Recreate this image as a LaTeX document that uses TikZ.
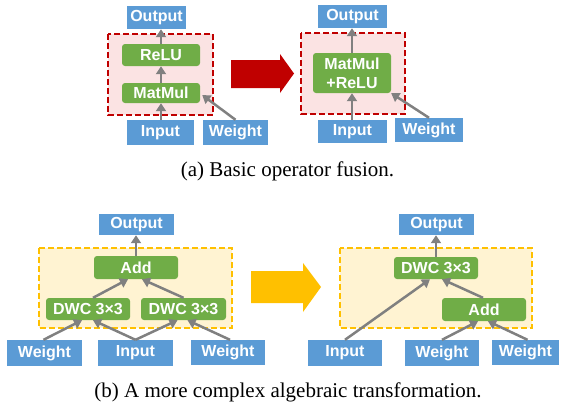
\documentclass[tikz,border=0pt]{standalone}
\usepackage{fontspec}
\setmainfont{Liberation Serif}
\newfontfamily\boxfont{Liberation Sans}
\usetikzlibrary{arrows.meta}
\definecolor{tblue}{HTML}{5B9BD5}
\definecolor{opgreen}{HTML}{70AD47}
\definecolor{lgray}{HTML}{808080}
\definecolor{dred}{HTML}{C00000}
\definecolor{gold}{HTML}{FFC000}
\definecolor{pinkbg}{HTML}{FBE3E3}
\definecolor{creambg}{HTML}{FFF3D2}
\begin{document}
\begin{tikzpicture}[x=1pt,y=-1pt,
    tensor/.style={fill=tblue,text=white,inner sep=0pt,
      font=\boxfont\bfseries\fontsize{16}{17}\selectfont},
    op/.style={fill=opgreen,text=white,inner sep=0pt,rounded corners=3pt,
      align=center,font=\boxfont\bfseries\fontsize{16}{19}\selectfont},
    flow/.style={draw=lgray,line width=2.5pt,-{Triangle[length=8pt,width=10pt]}},
    redzone/.style={draw=dred,fill=pinkbg,line width=2.2pt,dash pattern=on 6pt off 3pt},
    goldzone/.style={draw=gold,fill=creambg,line width=2.2pt,dash pattern=on 6pt off 3pt},
    caption/.style={anchor=base,font=\fontsize{21}{24}\selectfont}]
  \useasboundingbox (0,0) rectangle (564,402);

  % (a) basic operator fusion
  \draw[redzone] (108,34) rectangle (213,115);
  \draw[redzone] (301,33) rectangle (405,114);
  \node[tensor,minimum width=59pt,minimum height=23pt] (out1) at (156.5,17.5) {Output};
  \node[op,minimum width=78pt,minimum height=22pt] (relu1) at (161,55) {ReLU};
  \node[op,minimum width=78pt,minimum height=20pt] (mm1) at (161,93) {MatMul};
  \node[tensor,minimum width=67pt,minimum height=25pt] (in1) at (160.5,132.5) {Input};
  \node[tensor,minimum width=65pt,minimum height=25pt] (w1) at (235.5,132.5) {Weight};

  \node[tensor,minimum width=69pt,minimum height=23pt] (out2) at (352.5,16.5) {Output};
  \node[op,minimum width=78pt,minimum height=40pt] (fused) at (352,73) {MatMul\\+ReLU};
  \node[tensor,minimum width=69pt,minimum height=23pt] (in2) at (352.5,131.5) {Input};
  \node[tensor,minimum width=68pt,minimum height=24pt] (w2) at (429,130) {Weight};

  \fill[dred] (231,60) -- (280,60) -- (280,54) -- (294,73.5) -- (280,93)
    -- (280,88) -- (231,88) -- cycle;

  \draw[flow] (in1.north -| mm1) -- (mm1.south);
  \draw[flow] (mm1.north) -- (relu1.south);
  \draw[flow] (relu1.north) -- (relu1.north |- out1.south);
  \draw[flow] (w1.north) -- ([shift={(2,2)}]mm1.east);
  \draw[flow] (in2.north -| fused) -- (fused.south);
  \draw[flow] (fused.north) -- (fused.north |- out2.south);
  \draw[flow] (w2.north) -- (fused.south east);

  \node[caption] (capa) at (287.5,176) {(a) Basic operator fusion.};

  % (b) algebraic transformation
  \draw[goldzone] (39,248) rectangle (232,328);
  \draw[goldzone] (340,248) rectangle (532,328);
  \node[tensor,minimum width=75pt,minimum height=21pt] (out3) at (136.5,224.5) {Output};
  \node[op,minimum width=84pt,minimum height=23pt] (add3) at (136,267.5) {Add};
  \node[op,minimum width=84pt,minimum height=22pt] (dwcl) at (88,309) {DWC 3×3};
  \node[op,minimum width=85pt,minimum height=22pt] (dwcr) at (183.5,309) {DWC 3×3};
  \node[tensor,minimum width=75pt,minimum height=26pt] (wl) at (44.5,353) {Weight};
  \node[tensor,minimum width=75pt,minimum height=26pt] (in3) at (135.5,353) {Input};
  \node[tensor,minimum width=74pt,minimum height=25pt] (wr) at (228,352.5) {Weight};

  \node[tensor,minimum width=75pt,minimum height=21pt] (out4) at (436.5,224.5) {Output};
  \node[op,minimum width=84pt,minimum height=22pt] (dwc4) at (436,268) {DWC 3×3};
  \node[op,minimum width=84pt,minimum height=23pt] (add4) at (484,309.5) {Add};
  \node[tensor,minimum width=74pt,minimum height=26pt] (in4) at (345,353) {Input};
  \node[tensor,minimum width=74pt,minimum height=26pt] (wm4) at (442,353) {Weight};
  \node[tensor,minimum width=67pt,minimum height=25pt] (wr4) at (525.5,352.5) {Weight};

  \fill[gold] (251,271) -- (303,271) -- (303,263) -- (321,287) -- (303,312)
    -- (303,303) -- (251,303) -- cycle;

  \draw[flow] (add3.north) -- (add3.north |- out3.south);
  \draw[flow] ([xshift=5pt]dwcl.north) -- ([xshift=-8pt]add3.south);
  \draw[flow] (dwcr.north) -- ([xshift=6pt]add3.south);
  \draw[flow] ([xshift=-1pt]wl.north) -- ([xshift=-6pt]dwcl.south);
  \draw[flow] (in3.north) -- ([xshift=5pt]dwcl.south);
  \draw[flow] (in3.north) -- ([xshift=-6pt]dwcr.south);
  \draw[flow] ([xshift=2pt]wr.north) -- ([xshift=4pt]dwcr.south);

  \draw[flow] (dwc4.north) -- (dwc4.north |- out4.south);
  \draw[flow] (in4.north) -- ([xshift=-6pt]dwc4.south);
  \draw[flow] ([xshift=-1pt]add4.north) -- ([xshift=6pt]dwc4.south);
  \draw[flow] (wm4.north) -- ([xshift=-6pt]add4.south);
  \draw[flow] ([xshift=2pt]wr4.north) -- ([xshift=4pt]add4.south);

  \node[caption] (capb) at (288,397) {(b) A more complex algebraic transformation.};
\end{tikzpicture}
\end{document}
